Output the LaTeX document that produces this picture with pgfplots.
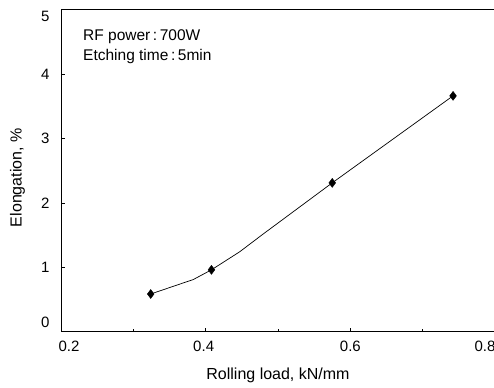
\documentclass[border=0pt]{standalone}
\usepackage{pgfplots}
\pgfplotsset{compat=1.18}
\usepackage{fontspec}
\setmainfont{Liberation Sans}
\begin{document}
\begin{tikzpicture}
\begin{axis}[
  scale only axis,
  width=434pt, height=322.2pt,
  xmin=0.2, xmax=0.8, ymin=0, ymax=5,
  xtick={0.2,0.4,0.6,0.8},
  minor xtick={0.3,0.5,0.7},
  ytick={0,1,2,3,4,5},
  yticklabels={\raisebox{10pt}{0},1,2,3,4,\raisebox{-7pt}{5}},
  xticklabels={\kern16pt 0.2,0.4\kern4pt,0.6,0.8\kern20pt},
  tick pos=left,
  tick align=inside,
  major tick length=4pt,
  minor tick length=3pt,
  axis line style={line width=0.9pt},
  tick style={line width=0.6pt, black},
  /pgf/number format/assume math mode=true,
  ticklabel style={font=\fontsize{15}{17}\selectfont},
  yticklabel style={anchor=base east, yshift=-5.3pt, xshift=-8pt},
  xticklabel style={yshift=-6pt},
  xlabel={Rolling load, kN/mm},
  ylabel={Elongation, \%},
  label style={font=\fontsize{16}{18}\selectfont},
  xlabel style={at={(rel axis cs:0.5,0)}, anchor=center, yshift=-44pt},
  ylabel style={at={(rel axis cs:-0.1002,0.478)}, anchor=center},
  clip=false,
]
\addplot[black, line width=0.7pt, mark=none] coordinates {
  (0.324,0.585) (0.383,0.81) (0.408,0.96) (0.447,1.24) (0.48,1.52) (0.575,2.31) (0.742,3.66)
};
\addplot[only marks, mark=diamond*, mark size=4.5pt, black] coordinates {
  (0.324,0.585) (0.408,0.96) (0.575,2.31) (0.742,3.66)
};
\node[anchor=base west, font=\fontsize{15.5}{17}\selectfont, inner sep=0pt] at (axis cs:0.2304,4.52) {RF power\,:\,700W};
\node[anchor=base west, font=\fontsize{15.5}{17}\selectfont, inner sep=0pt] at (axis cs:0.2304,4.21) {Etching time\,:\,5min};
\coordinate (bl) at (rel axis cs:0,0);
\coordinate (tr) at (rel axis cs:1,1);
\end{axis}
\pgfresetboundingbox
\path[use as bounding box] ([xshift=-61pt,yshift=-55.5pt]bl) rectangle ([xshift=-1pt,yshift=9.5pt]tr);
\end{tikzpicture}
\end{document}
